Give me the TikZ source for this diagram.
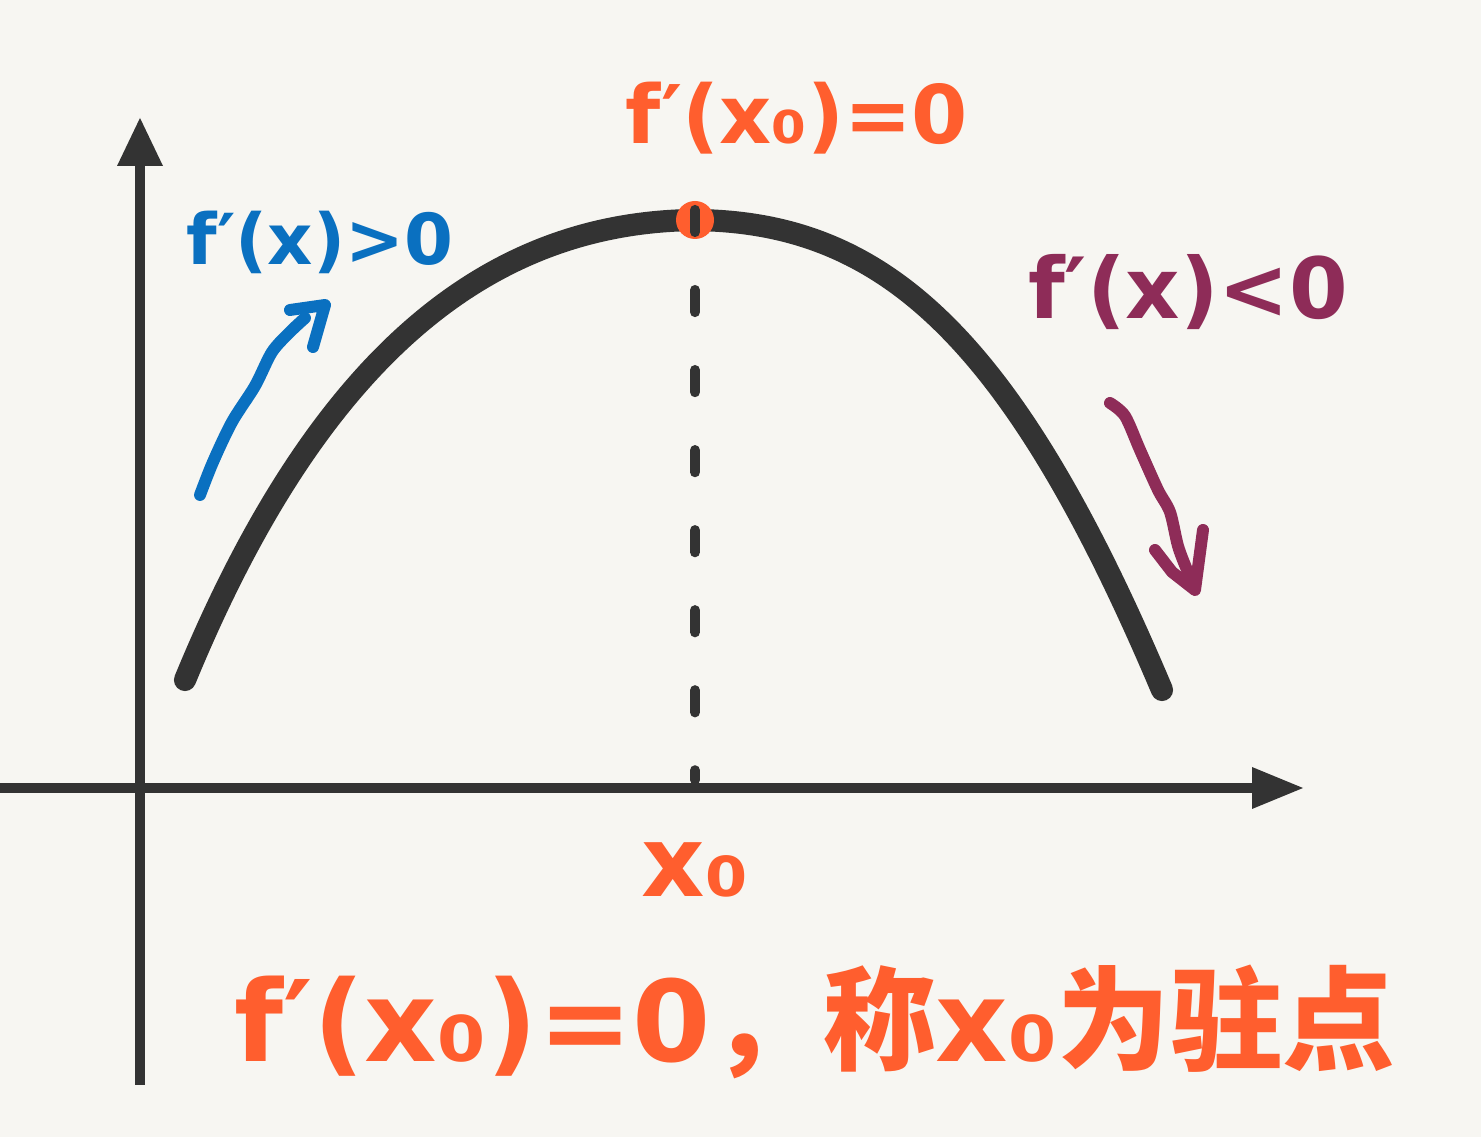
\documentclass[tikz,border=0pt]{standalone}
\usepackage{fontspec}
\setmainfont{DejaVu Sans}
\newfontfamily\cjk{Noto Sans CJK SC}
\usetikzlibrary{positioning, arrows.meta, calc}

\definecolor{paper}{HTML}{F7F6F2}
\definecolor{ink}{HTML}{333333}
\definecolor{penorange}{HTML}{FF5E2E}
\definecolor{penblue}{HTML}{0A70C0}
\definecolor{penpurple}{HTML}{8E2C58}

\begin{document}
\begin{tikzpicture}[
    x=0.01cm, y=-0.01cm,
    axisline/.style={draw=ink, line width=2.9pt},
    axistip/.style={fill=ink},
    curveline/.style={draw=ink, line width=6.3pt, line cap=round},
    dashline/.style={draw=ink, line width=2.9pt, line cap=round, dash pattern=on 0.22cm off 0.58cm},
    pen/.style={line width=3.4pt, line cap=round, line join=round},
    label/.style={font=\bfseries\fontsize{#1}{#1}\selectfont, inner sep=0pt},
]
\useasboundingbox[fill=paper] (0,0) rectangle (1481,1137);

% axes
\coordinate (o) at (140,788);
\coordinate (ybot) at (140,1085);
\coordinate (ytop) at (140,160);
\coordinate (xleft) at (0,788);
\coordinate (xright) at (1255,788);
\draw[axisline] (ybot) -- (ytop);
\draw[axisline] (xleft) -- (xright);
\fill[axistip] (140,118) -- (163,166) -- (117,166) -- cycle;
\fill[axistip] (1303,788) -- (1252,767) -- (1252,809) -- cycle;

% the curve
\coordinate (cl) at (185,680);
\coordinate (peak) at (695,220);
\coordinate (cr) at (1162,690);
\draw[curveline] (cl) .. controls (325,340) and (500,222) .. (peak)
    .. controls (880,222) and (1010,330) .. (cr);

% stationary point
\fill[penorange] (peak) circle (19);
\coordinate (foot) at (695,780);
\draw[dashline] (695,210) -- (foot);

% labels
\node[label=23pt, text=penorange] (top) at (797,118) {f′(x₀)=0};
\node[label=20pt, text=penblue] (up) at (320,242) {f′(x)>0};
\node[label=24pt, text=penpurple] (down) at (1188,292) {f′(x)<0};
\node[label=28pt, text=penorange] (xzero) at (695,870) {x₀};
\node[label=32pt, text=penorange] (note) at (815,1022) {f′(x₀)=0{\cjk ，称}x₀{\cjk 为驻点}};

% blue arrow
\coordinate (b0) at (200,495);
\coordinate (b1) at (305,318);
\draw[pen, penblue] plot[smooth] coordinates {(b0) (213,462) (232,422) (255,386) (272,352) (290,332) (b1)};
\draw[pen, penblue] (290,310) -- (325,305) -- (313,347);

% purple arrow
\coordinate (p0) at (1110,403);
\coordinate (p1) at (1195,588);
\draw[pen, penpurple] plot[smooth] coordinates {(p0) (1125,416) (1140,450) (1158,490) (1170,512) (1178,546) (1187,570) (p1)};
\draw[pen, penpurple] (1155,550) -- (1172,572) -- (1195,590) -- (1203,530);
\end{tikzpicture}
\end{document}
